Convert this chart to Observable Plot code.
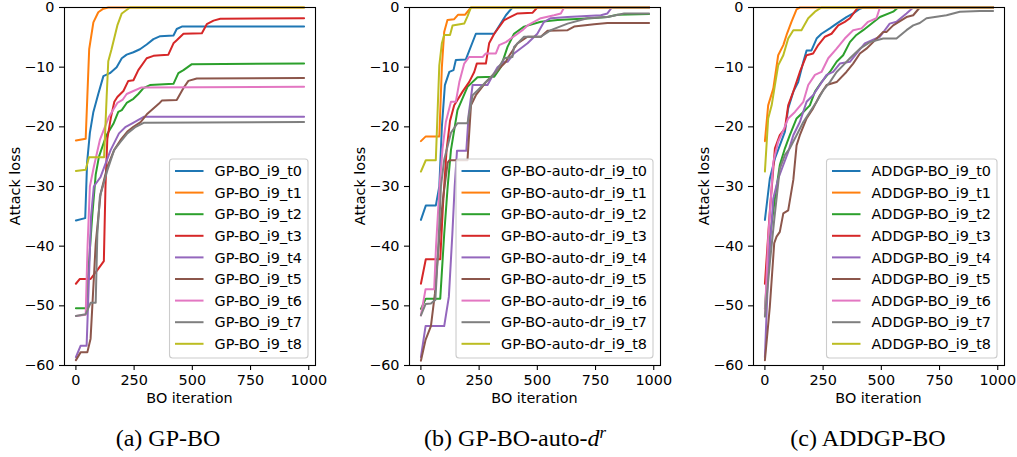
<!DOCTYPE html>
<html><head><meta charset="utf-8">
<script src="https://cdn.jsdelivr.net/npm/d3@7"></script>
<script src="https://cdn.jsdelivr.net/npm/@observablehq/plot@0.6"></script>
<style>
html,body{margin:0;padding:0;background:#fff;}
body{width:1017px;height:457px;position:relative;overflow:hidden;font-family:"DejaVu Sans",sans-serif;}
.panel{position:absolute;top:0;}
.cap{position:absolute;top:426px;font-family:"Liberation Serif",serif;font-size:24px;line-height:24px;transform:translateX(-50%);white-space:nowrap;color:#000;}
.cap sup{font-size:70%;line-height:0;vertical-align:0.45em;}
</style></head><body>
<div id="p0" class="panel"></div>
<div id="p1" class="panel"></div>
<div id="p2" class="panel"></div>
<div class="cap" style="left:168px">(a) GP-BO</div>
<div class="cap" style="left:515px">(b) GP-BO-auto-<i>d</i><sup><i>r</i></sup></div>
<div class="cap" style="left:868px">(c) ADDGP-BO</div>
<script>
// ---- ticks / labels ----
const xTicks = [0, 250, 500, 750, 1000];
const yTicks = [0, -10, -20, -30, -40, -50, -60];
const trialNames = ["t0","t1","t2","t3","t4","t5","t6","t7","t8"];
const colors = ["#1f77b4","#ff7f0e","#2ca02c","#d62728","#9467bd","#8c564b","#e377c2","#7f7f7f","#bcbd22"];
const prefixes = ["GP-BO_i9_", "GP-BO-auto-dr_i9_", "ADDGP-BO_i9_"];
const xLabel = "BO iteration";
const yLabel = "Attack loss";

// ---- (a) GP-BO : [iteration, attack loss] ----
const gp_t0 = [[0,-35.7],[40,-35.3],[48,-26],[60,-21],[75,-17.5],[96,-14.5],[118,-11.5],[146,-11],[175,-10],[197,-8.5],[218,-7.9],[247,-7.5],[275,-7],[304,-6.2],[333,-5.3],[362,-4.8],[419,-4.7],[433,-3.6],[455,-3.2],[980,-3.2]];
const gp_t1 = [[0,-22.3],[42,-22],[49,-15],[57,-7],[75,-2.5],[96,-0.8],[118,-0.2],[139,0],[980,0]];
const gp_t2 = [[0,-50.4],[45,-50.4],[52,-45],[70,-35],[85,-28],[99,-25],[130,-21.5],[161,-19.5],[182,-17.5],[197,-17.2],[218,-16],[247,-15.3],[268,-14.5],[290,-13.5],[318,-13],[419,-12.8],[440,-11],[462,-10.5],[498,-9.5],[980,-9.4]];
const gp_t3 = [[0,-46.3],[17,-45.5],[63,-45.5],[92,-44],[120,-42.5],[127,-30],[135,-22],[150,-18.5],[165,-15.8],[178,-15],[204,-14],[225,-12.3],[247,-12.2],[268,-10.5],[304,-8.5],[333,-8.1],[362,-8],[397,-7.9],[419,-6],[433,-5.5],[462,-4.4],[541,-4.3],[562,-2.8],[591,-2.2],[620,-1.9],[980,-1.8]];
const gp_t4 = [[0,-58.6],[20,-56.7],[46,-56.7],[52,-50],[65,-35],[77,-30],[106,-28.4],[149,-23.9],[185,-21.1],[214,-20],[242,-19.4],[293,-18.3],[980,-18.3]];
const gp_t5 = [[0,-59.1],[20,-57.8],[49,-57.8],[63,-55.5],[85,-39.6],[106,-31.2],[135,-26.7],[164,-23.9],[192,-22.2],[221,-20.8],[247,-20],[278,-19.2],[307,-17.8],[357,-16.1],[369,-15.6],[433,-15.5],[462,-13.5],[483,-12.3],[519,-11.9],[980,-11.8]];
const gp_t6 = [[0,-51.7],[42,-51.5],[50,-40],[60,-30],[77,-26.7],[103,-22.2],[142,-18.3],[178,-16],[200,-15.5],[218,-14.5],[247,-14],[282,-13.4],[980,-13.3]];
const gp_t7 = [[0,-51.7],[42,-51.4],[63,-49.5],[85,-49.5],[92,-38],[103,-31.7],[135,-27.3],[164,-23.9],[192,-22.5],[221,-21.1],[257,-20],[293,-19.3],[980,-19.2]];
const gp_t8 = [[0,-27.4],[42,-27.2],[56,-25.1],[121,-25.1],[132,-15],[139,-9],[153,-7],[178,-3],[197,-1],[232,0],[980,0]];

// ---- (b) GP-BO-auto-d^r ----
const auto_t0 = [[0,-35.6],[21,-33.2],[64,-33.2],[79,-30],[90,-20],[103,-13],[122,-10.8],[140,-10.5],[150,-8.8],[193,-8.7],[236,-4.4],[315,-4.4],[365,-1.3],[393,0],[980,0]];
const auto_t1 = [[0,-22.4],[21,-21.6],[79,-21.6],[90,-10],[100,-4.1],[114,-2.1],[143,-1.95],[160,-1.2],[190,-1.2],[215,0],[980,0]];
const auto_t2 = [[0,-50.5],[21,-48.8],[83,-48.8],[100,-38],[115,-30],[129,-23.9],[157,-17.2],[200,-13.3],[243,-11.7],[315,-11.6],[343,-10],[372,-6.6],[400,-4.4],[443,-3.2],[515,-2.4],[587,-2.1],[730,-1.8],[801,-1.6],[844,-1.2],[980,-1.1]];
const auto_t3 = [[0,-46.3],[21,-42.2],[83,-42.2],[95,-33],[110,-24],[125,-19],[143,-16.4],[179,-14.1],[207,-12.5],[229,-10.8],[240,-9.4],[279,-9.4],[293,-6],[315,-4.4],[358,-2.1],[415,-1],[479,-0.9],[500,0],[980,0]];
const auto_t4 = [[0,-58.6],[20,-53.4],[100,-53.4],[120,-48.5],[135,-38],[145,-30],[155,-24],[195,-24],[205,-18],[222,-13],[286,-13],[300,-12],[329,-10],[358,-9.1],[372,-9.1],[400,-7.7],[458,-6],[500,-4.4],[529,-2.4],[558,-1.8],[630,-1.6],[773,-1.3],[801,-1],[820,0],[980,0]];
const auto_t5 = [[0,-59.2],[20,-55.7],[43,-53.4],[60,-48],[80,-38],[95,-32],[115,-26],[122,-25.6],[200,-25.6],[215,-16.4],[236,-14.7],[279,-12.5],[322,-10.8],[365,-9.1],[372,-8.5],[415,-6],[458,-4.9],[515,-4.9],[544,-3.9],[630,-3.8],[658,-3.2],[744,-2.8],[801,-2.6],[980,-2.6]];
const auto_t6 = [[0,-51.6],[20,-47.2],[57,-47.2],[65,-40],[80,-30],[93,-23.6],[107,-19.2],[129,-15.8],[150,-15.8],[165,-12.5],[186,-9.4],[207,-8.3],[265,-8.3],[279,-7.7],[322,-7.7],[336,-6.3],[365,-5.8],[408,-4.6],[436,-3.8],[458,-3],[515,-1.8],[572,-1.3],[601,-1],[615,0],[980,0]];
const auto_t7 = [[0,-51.6],[20,-49.7],[43,-49.6],[62,-49],[75,-40],[86,-30],[100,-25.5],[129,-21],[157,-19.4],[200,-19.4],[222,-14.7],[243,-13.9],[279,-12.5],[322,-10.8],[358,-8.5],[393,-8.3],[400,-6.6],[443,-4.9],[515,-4.9],[558,-3.8],[630,-2.7],[715,-1.8],[801,-1.6],[873,-1],[980,-1]];
const auto_t8 = [[0,-27.5],[21,-25.6],[64,-25.6],[79,-9.7],[90,-6],[100,-4.6],[125,-4.6],[136,-3],[186,-2.7],[200,-1.5],[215,0],[980,0]];

// ---- (c) ADDGP-BO ----
const add_t0 = [[0,-35.6],[21,-28.7],[43,-25.3],[64,-23.1],[86,-20.8],[100,-16.9],[122,-14.1],[143,-12.5],[165,-9.1],[179,-7.2],[200,-7.2],[222,-5.2],[243,-4.4],[279,-3.5],[308,-2.7],[350,-1.6],[379,-1],[408,-0.2],[422,0],[980,0]];
const add_t1 = [[0,-22.4],[14,-16.4],[36,-13.6],[57,-8],[79,-6.3],[93,-4.6],[114,-2.4],[136,-0.3],[150,0],[980,0]];
const add_t2 = [[0,-50.5],[21,-38.7],[43,-32],[64,-26.4],[86,-23.6],[107,-21.4],[136,-18.6],[165,-17.5],[193,-16.4],[215,-14.1],[243,-12.5],[279,-10.8],[308,-9.1],[336,-8],[365,-5.8],[393,-4.6],[422,-3.8],[494,-1.6],[551,-0.7],[572,0],[980,0]];
const add_t3 = [[0,-46.3],[21,-34.2],[43,-23.6],[64,-21.4],[86,-20.3],[100,-16.4],[122,-14.1],[150,-10.8],[179,-8],[207,-7.7],[229,-6.3],[258,-4.9],[286,-4.4],[315,-3],[343,-2.4],[365,-1.8],[386,-0.7],[400,0],[980,0]];
const add_t4 = [[0,-58.6],[14,-44.3],[36,-32],[57,-28.7],[79,-26.4],[100,-24.2],[122,-21.4],[150,-19.2],[179,-15.8],[207,-14.7],[236,-13],[265,-11.3],[293,-10.8],[322,-9.4],[365,-9.1],[400,-7.4],[429,-6],[494,-4.9],[536,-2.7],[565,-2.4],[608,-1],[637,0],[980,0]];
const add_t5 = [[0,-59.1],[21,-50.2],[40,-39.5],[50,-38.4],[64,-37.6],[79,-34.5],[100,-34],[122,-28.9],[136,-23.1],[150,-21.4],[179,-18.6],[207,-16.9],[236,-14.7],[265,-13],[308,-12.5],[350,-10.8],[379,-9.4],[408,-7.7],[436,-6.9],[465,-5.8],[508,-4.1],[522,-4.1],[551,-3],[608,-1.6],[637,-1.3],[665,0],[980,0]];
const add_t6 = [[0,-51.6],[14,-38.7],[36,-25.9],[57,-22.5],[79,-20.6],[100,-18.6],[129,-17.5],[165,-15.8],[186,-13],[215,-11.3],[243,-10.8],[272,-8.5],[308,-6.9],[343,-5.2],[379,-3.8],[415,-3.5],[443,-2.4],[479,-1.8],[494,0],[980,0]];
const add_t7 = [[0,-51.8],[21,-42.9],[40,-35.6],[64,-27],[86,-24.7],[107,-23.6],[136,-21.4],[165,-19.2],[193,-17.5],[222,-15.8],[250,-13.9],[279,-12.5],[308,-10.8],[336,-9.7],[365,-8.5],[408,-6.9],[451,-5.8],[508,-5.2],[565,-5.2],[608,-3.8],[637,-3],[665,-2.6],[694,-1.8],[780,-1.3],[837,-0.7],[923,-0.6],[980,-0.6]];
const add_t8 = [[0,-27.5],[14,-18.6],[29,-16.4],[43,-13],[57,-9.7],[79,-8],[100,-5.2],[122,-3.8],[157,-3.8],[186,-1.8],[215,-0.7],[243,0],[980,0]];

const panelSeries = [
  [gp_t0,gp_t1,gp_t2,gp_t3,gp_t4,gp_t5,gp_t6,gp_t7,gp_t8],
  [auto_t0,auto_t1,auto_t2,auto_t3,auto_t4,auto_t5,auto_t6,auto_t7,auto_t8],
  [add_t0,add_t1,add_t2,add_t3,add_t4,add_t5,add_t6,add_t7,add_t8]
];
const frameLeft = [63.5, 408.5, 753];

const FS = 14.4;
const W = 251, ML = 66, MR = 12, MT = 7, H = 412, MB = H - 365;
const fmt = d3.format("d");

panelSeries.forEach((series, pi) => {
  const host = document.getElementById("p" + pi);
  host.style.left = (frameLeft[pi] - ML) + "px";
  const svg = Plot.plot({
    width: ML + W + MR, height: H,
    marginLeft: ML, marginRight: MR, marginTop: MT, marginBottom: MB,
    style: {fontFamily: "DejaVu Sans", fontSize: FS + "px", background: "white", color: "black", overflow: "visible"},
    x: {domain: [-49, 1029]},
    y: {domain: [-60, 0]},
    marks: [
      ...series.map((s, i) => Plot.line(s, {x: d => d[0], y: d => d[1], stroke: colors[i], strokeWidth: 2, strokeLinejoin: "round"})),
      Plot.frame({stroke: "black", strokeWidth: 1.1}),
      Plot.axisX({ticks: xTicks, tickFormat: fmt, tickSize: 5, tickPadding: 4, label: null, strokeWidth: 1.1, fontSize: FS}),
      Plot.axisY({ticks: yTicks, tickFormat: fmt, tickSize: 5, tickPadding: 5, label: null, strokeWidth: 1.1, fontSize: FS})
    ]
  });
  host.appendChild(svg);
  const g = d3.select(svg);
  // axis titles
  g.append("text").attr("x", ML + W / 2).attr("y", 398).attr("text-anchor", "middle")
    .attr("dominant-baseline", "central").attr("font-size", FS).attr("fill", "black").text(xLabel);
  g.append("text").attr("transform", `translate(${ML - 49},${MT + 179}) rotate(-90)`).attr("text-anchor", "middle")
    .attr("dominant-baseline", "central").attr("font-size", FS).attr("fill", "black").text(yLabel);
  // legend
  const lg = g.append("g").attr("text-anchor", "start");
  const labels = trialNames.map(t => prefixes[pi] + t);
  const texts = labels.map((lab, i) => lg.append("text").attr("text-anchor", "start").attr("font-size", FS).attr("fill", "black").attr("dy", "0.36em").text(lab));
  const maxW = d3.max(texts, t => t.node().getComputedTextLength());
  const boxRight = ML + W - 7, boxBottom = 365 - 7, boxTop = 159;
  const boxW = 45 + maxW + 6;
  const boxLeft = boxRight - boxW;
  lg.insert("rect", ":first-child").attr("x", boxLeft).attr("y", boxTop).attr("width", boxW).attr("height", boxBottom - boxTop)
    .attr("rx", 3).attr("fill", "white").attr("fill-opacity", 0.8).attr("stroke", "#cccccc").attr("stroke-width", 1.1);
  labels.forEach((lab, i) => {
    const cy = 171 + i * 21.6;
    lg.append("line").attr("x1", boxLeft + 5.5).attr("x2", boxLeft + 34).attr("y1", cy).attr("y2", cy)
      .attr("stroke", colors[i]).attr("stroke-width", 2);
    texts[i].attr("x", boxLeft + 45).attr("y", cy);
    lg.node().appendChild(texts[i].node());
  });
});
</script>
</body></html>
